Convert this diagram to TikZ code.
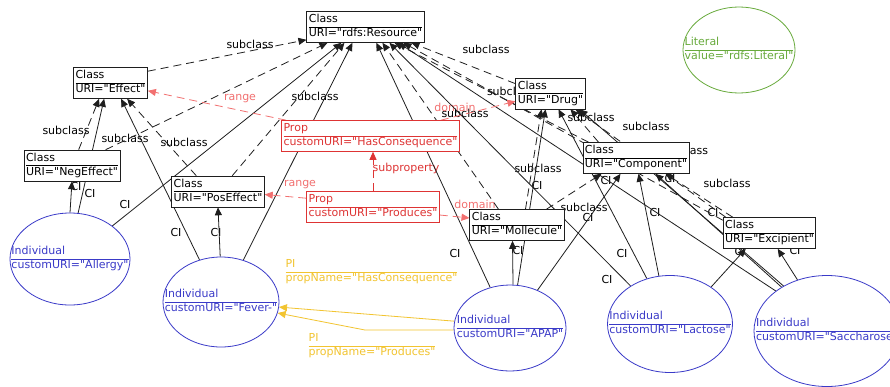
\documentclass[tikz,border=0pt]{standalone}
\usepackage{fontspec}
\newfontfamily\dvsans{DejaVu Sans}
\usetikzlibrary{arrows.meta,shapes.geometric,calc}
\definecolor{propred}{RGB}{222,52,52}
\definecolor{relred}{RGB}{242,112,112}
\definecolor{indblue}{RGB}{58,58,200}
\definecolor{piyellow}{RGB}{242,196,48}
\definecolor{litgreen}{RGB}{104,170,60}
\definecolor{edgec}{RGB}{30,30,30}
\pgfdeclarelayer{bg}
\pgfsetlayers{bg,main}
\setlength{\arrayrulewidth}{0.8pt}
\newcommand{\twoline}[2]{\begin{tabular}{@{}l@{}}#1\\\hline #2\end{tabular}}
\tikzset{
  basefont/.style={font=\dvsans\fontsize{11}{13}\selectfont, inner sep=2pt},
  cls/.style={basefont, draw=edgec, line width=0.8pt, fill=white, text=black},
  prop/.style={basefont, draw=propred, line width=0.8pt, fill=white, text=propred},
  indiv/.style={ellipse, draw=indblue, line width=0.8pt, fill=white, inner sep=0pt},
  indtext/.style={basefont, text=indblue, inner sep=0pt},
  litell/.style={ellipse, draw=litgreen, line width=0.8pt, fill=white, inner sep=0pt},
  littext/.style={basefont, text=litgreen, inner sep=0pt},
  pilab/.style={basefont, text=piyellow, inner sep=0pt},
  lab/.style={basefont, inner sep=0pt, text=black},
  rlab/.style={basefont, inner sep=0pt, text=relred},
  plab/.style={basefont, inner sep=0pt, text=propred},
  endtip/.style={-{Triangle[length=8pt,width=7pt]}},
  subedge/.style={endtip, draw=edgec, line width=0.8pt, dash pattern=on 8pt off 5pt},
  ciedge/.style={endtip, draw=edgec, line width=0.8pt},
  reledge/.style={endtip, draw=relred, line width=0.8pt, dash pattern=on 8pt off 5pt},
  subpedge/.style={endtip, draw=propred, line width=0.8pt, dash pattern=on 8pt off 5pt},
  piedge/.style={endtip, draw=piyellow, line width=0.8pt},
}
\begin{document}
\begin{tikzpicture}[x=1pt,y=-1pt]
\useasboundingbox (0,0) rectangle (890,386);

% class boxes
\node[cls] (res) at (365.5,27) {\twoline{Class}{URI="rdfs:Resource"}};
\node[cls] (eff) at (110.5,83) {\twoline{Class}{URI="Effect"}};
\node[cls] (neg) at (72,165.5) {\twoline{Class}{URI="NegEffect"}};
\node[cls] (pos) at (218,191.5) {\twoline{Class}{URI="PosEffect"}};
\node[prop] (hcons) at (370.5,136) {\twoline{Prop}{customURI="HasConsequence"}};
\node[prop] (prod) at (373,207) {\twoline{Prop}{customURI="Produces"}};
\node[cls] (drug) at (550.5,93.5) {\twoline{Class}{URI="Drug"}};
\node[cls] (comp) at (636,158) {\twoline{Class}{URI="Component"}};
\node[cls] (moll) at (517,225) {\twoline{Class}{URI="Mollecule"}};
\node[cls] (excip) at (769.5,233) {\twoline{Class}{URI="Excipient"}};

% literal
\node[litell, minimum width=112, minimum height=86] (lit) at (739,50) {};
\node[littext] (litT) at (lit.center) {\twoline{Literal}{value="rdfs:Literal"}};

% individuals
\node[indiv, minimum width=120, minimum height=92] (allergy) at (70,259) {};
\node[indtext] (allergyT) at (allergy.center) {\twoline{Individual}{customURI="Allergy"}};
\node[indiv, minimum width=116, minimum height=90] (fever) at (221,302) {};
\node[indtext] (feverT) at (fever.center) {\twoline{Individual}{customURI="Fever-"}};
\node[indiv, minimum width=112, minimum height=86] (apap) at (510,328) {};
\node[indtext] (apapT) at (apap.center) {\twoline{Individual}{customURI="APAP"}};
\node[indiv, minimum width=125, minimum height=97] (lact) at (670,324) {};
\node[indtext] (lactT) at (lact.center) {\twoline{Individual}{customURI="Lactose"}};
\node[indiv, minimum width=146, minimum height=111] (sacch) at (827,331) {};
\node[indtext] (sacchT) at (sacch.center) {\twoline{Individual}{customURI="Saccharose"}};

% PI labels
\node[pilab] (pi1) at (371.5,272) {\twoline{PI}{propName="HasConsequence"}};
\node[pilab] (pi2) at (372,346) {\twoline{PI}{propName="Produces"}};

\begin{pgfonlayer}{bg}
\fill[white] (0,0) rectangle (890,386);
% subclass labels
\node[lab] (ls1) at (250,44) {subclass};
\node[lab] (ls2) at (66,130) {subclass};
\node[lab] (ls3) at (125,138) {subclass};
\node[lab] (ls4) at (184,142) {subclass};
\node[lab] (ls5) at (315,96) {subclass};
\node[lab] (ls6) at (486,49) {subclass};
\node[lab] (ls7) at (538,168) {subclass};
\node[lab] (ls8) at (465,113) {subclass};
\node[lab] (ls9) at (584,207) {subclass};
\node[lab] (ls10) at (591,117) {subclass};
\node[lab] (ls11) at (510.5,91) {subclass};
\node[lab] (ls12) at (727,183) {subclass};
\node[lab] (ls13) at (646,126) {subclass};
\node[lab] (ls14) at (684.5,150) {subclass};
% CI labels
\node[lab] (lc1) at (76,186) {CI};
\node[lab] (lc2) at (90,193) {CI};
\node[lab] (lc3) at (125,204) {CI};
\node[lab] (lc4) at (176,232) {CI};
\node[lab] (lc5) at (216,232) {CI};
\node[lab] (lc6) at (518,250) {CI};
\node[lab] (lc7) at (537,185) {CI};
\node[lab] (lc8) at (455,253) {CI};
\node[lab] (lc9) at (588,217) {CI};
\node[lab] (lc10) at (655,212) {CI};
\node[lab] (lc11) at (622,253) {CI};
\node[lab] (lc12) at (607,279) {CI};
\node[lab] (lc13) at (713,212) {CI};
\node[lab] (lc14) at (795,250) {CI};
\node[lab] (lc15) at (606,180) {CI};
\node[lab] (lc16) at (670,178) {CI};
\node[lab] (lc17) at (740,251) {CI};
% property labels
\node[rlab] (lr1) at (240,99) {range};
\node[rlab] (lr2) at (300,185) {range};
\node[rlab] (ld1) at (455,107) {domain};
\node[rlab] (ld2) at (475,204) {domain};
\node[plab] (lsp) at (406,168) {subproperty};

% subclass edges
\draw[subedge] ($(eff.north east)+(0,4)$) -- ($(res.south west)+(0,-3)$);
\draw[subedge] ($(neg.north west)+(55,0)$) -- ($(eff.south west)+(26,0)$);
\draw[subedge] ($(neg.north west)+(82,0)$) -- ($(res.south west)+(21,0)$);
\draw[subedge] ($(pos.north west)+(25,0)$) -- ($(eff.south west)+(54,0)$);
\draw[subedge] ($(pos.north west)+(61,0)$) -- ($(res.south west)+(38,0)$);
\draw[subedge] ($(drug.north west)+(0,6)$) -- ($(res.south west)+(105,0)$);
\draw[subedge] ($(moll.north west)+(56,0)$) -- ($(drug.south west)+(26,0)$);
\draw[subedge] ($(moll.north west)+(29,0)$) -- ($(res.south west)+(76,0)$);
\draw[subedge] ($(moll.north west)+(77,0)$) -- ($(comp.south west)+(19,0)$);
\draw[subedge] ($(comp.north west)+(16,0)$) -- ($(drug.south west)+(55,0)$);
\draw[subedge] ($(comp.north west)+(6,0)$) -- ($(res.south west)+(88,0)$);
\draw[subedge] ($(excip.north west)+(10,0)$) -- ($(comp.south west)+(83,0)$);
\draw[subedge] ($(excip.north west)+(3,0)$) -- ($(drug.south west)+(60,0)$);
\draw[subedge] ($(excip.north west)+(0,3)$) -- ($(res.south west)+(97,0)$);

% class instance edges
\draw[ciedge] (allergy.north) -- (neg.south);
\draw[ciedge] (allergy.80) -- ($(eff.south west)+(31,0)$);
\draw[ciedge] (allergy.38) -- ($(res.south west)+(35,0)$);
\draw[ciedge] (fever.91) -- (pos.south);
\draw[ciedge] (fever.117) -- ($(eff.south west)+(48,0)$);
\draw[ciedge] (fever.62) -- ($(res.south west)+(46,0)$);
\draw[ciedge] (apap.86) -- ($(moll.south west)+(43,0)$);
\draw[ciedge] (apap.80) -- ($(drug.south west)+(30,0)$);
\draw[ciedge] (apap.54) -- ($(comp.south west)+(38,0)$);
\draw[ciedge] (apap.116) -- ($(res.south west)+(70,0)$);
\draw[ciedge] (lact.42) -- ($(excip.south west)+(23,0)$);
\draw[ciedge] (lact.103) -- ($(comp.south west)+(56,0)$);
\draw[ciedge] (lact.117) -- ($(drug.south west)+(43,0)$);
\draw[ciedge] (lact.136) -- ($(res.south west)+(83,0)$);
\draw[ciedge] (sacch.120) -- ($(excip.south west)+(55,0)$);
\draw[ciedge] (sacch.136) -- ($(comp.south west)+(73,0)$);
\draw[ciedge] (sacch.134) -- ($(drug.south west)+(64,0)$);
\draw[ciedge] (sacch.142) -- ($(res.south west)+(92,0)$);

% property edges
\draw[reledge] ($(hcons.north west)+(5,0)$) -- ($(eff.south east)+(0,-8)$);
\draw[reledge] ($(hcons.north east)+(-19,0)$) -- ($(drug.south west)+(0,-8)$);
\draw[reledge] ($(prod.north west)+(0,7)$) -- ($(pos.east)+(0,3)$);
\draw[reledge] ($(prod.east)+(0,8)$) -- ($(moll.west)+(0,-7)$);
\draw[subpedge] (prod.north) -- ($(hcons.south)+(2.5,0)$);

% property instance edges
\coordinate (ybend) at (365,330);
\draw[piedge] (apap.173) -- (fever.-5);
\draw[piedge] (apap.182) -- (ybend) -- (fever.-11);
\end{pgfonlayer}
\end{tikzpicture}
\end{document}
